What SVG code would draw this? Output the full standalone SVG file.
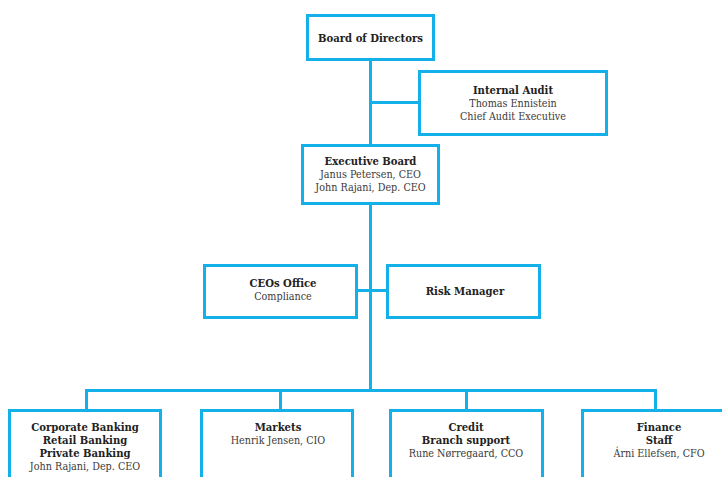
<svg xmlns="http://www.w3.org/2000/svg" width="722" height="477" viewBox="0 0 722 477">
<style>
.box{fill:#fff;stroke:#13b0ea;stroke-width:3}
.ln{fill:none;stroke:#13b0ea;stroke-width:3}
text{font-family:"DejaVu Serif Condensed","DejaVu Serif","Liberation Serif",serif;font-size:10.7px;fill:#3a3a3a;text-anchor:middle;font-stretch:condensed}
.b{font-weight:bold;fill:#222;font-size:11.2px}
</style>
<rect width="722" height="477" fill="#fff"/>
<g id="connectors">
<path class="ln" d="M370.5 60V144M370.5 102.5H419M370.5 204V390.5M357 290.5H387M86.5 410V390.5H655.5V410M280.5 390.5V410M466.5 390.5V410"/>
</g>
<g id="board">
<rect class="box" x="307.5" y="15.5" width="126" height="44"/>
<text x="370.5" y="42" class="b">Board of Directors</text>
</g>
<g id="audit">
<rect class="box" x="419.5" y="71.5" width="187" height="63"/>
<text x="513" y="94" class="b">Internal Audit</text>
<text x="513" y="107">Thomas Ennistein</text>
<text x="513" y="120">Chief Audit Executive</text>
</g>
<g id="exec">
<rect class="box" x="302.5" y="145.5" width="136" height="58"/>
<text x="370.5" y="165" class="b">Executive Board</text>
<text x="370.5" y="178">Janus Petersen, CEO</text>
<text x="370.5" y="191">John Rajani, Dep. CEO</text>
</g>
<g id="ceo-office">
<rect class="box" x="204.5" y="265.5" width="152" height="52"/>
<text x="283" y="287" class="b">CEOs Office</text>
<text x="283" y="299.5">Compliance</text>
</g>
<g id="risk">
<rect class="box" x="387.5" y="265.5" width="152" height="52"/>
<text x="465" y="295" class="b">Risk Manager</text>
</g>
<g id="banking">
<rect class="box" x="9.5" y="410.5" width="151" height="80"/>
<text x="85" y="431" class="b">Corporate Banking</text>
<text x="85" y="444" class="b">Retail Banking</text>
<text x="85" y="457" class="b">Private Banking</text>
<text x="85" y="470">John Rajani, Dep. CEO</text>
</g>
<g id="markets">
<rect class="box" x="201.5" y="410.5" width="151" height="80"/>
<text x="278" y="431" class="b">Markets</text>
<text x="278" y="444">Henrik Jensen, CIO</text>
</g>
<g id="credit">
<rect class="box" x="390.5" y="410.5" width="152" height="80"/>
<text x="466" y="431" class="b">Credit</text>
<text x="466" y="444" class="b">Branch support</text>
<text x="466" y="457">Rune Nørregaard, CCO</text>
</g>
<g id="finance">
<rect class="box" x="582.5" y="410.5" width="152" height="80"/>
<text x="659" y="431" class="b">Finance</text>
<text x="659" y="444" class="b">Staff</text>
<text x="659" y="457">Árni Ellefsen, CFO</text>
</g>
</svg>
